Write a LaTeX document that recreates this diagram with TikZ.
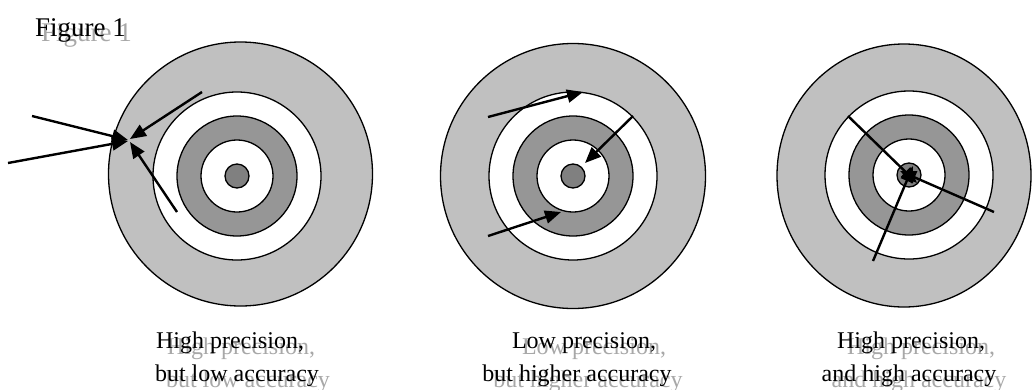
\documentclass[tikz,border=0pt]{standalone}
\usepackage{fontspec}
\setmainfont{Liberation Serif}
\usetikzlibrary{arrows.meta}
\definecolor{ringlight}{RGB}{192,192,192}
\definecolor{ringdark}{RGB}{150,150,150}
\definecolor{bull}{RGB}{128,128,128}
\definecolor{ghost}{RGB}{168,168,168}
\begin{document}
\begin{tikzpicture}[x=1pt,y=-1pt,
  ring/.style={draw=black,line width=1.3pt},
  shot/.style={line width=2.4pt,-{Triangle[length=16pt,width=13pt]}},
  lbl/.style={inner sep=0pt,anchor=base,font=\fontsize{24}{29}\selectfont},
  ghostlbl/.style={lbl,text=ghost},
  figlbl/.style={inner sep=0pt,anchor=base west,font=\fontsize{27}{32}\selectfont},
]
\useasboundingbox (0,0) rectangle (1032,389);

% ---------- Target 1 ----------
\path[ring,fill=ringlight] (240.5,174) circle[radius=132];
\path[ring,fill=white] (237,176) circle[radius=84];
\path[ring,fill=ringdark] (237,176) circle[radius=60];
\path[ring,fill=white] (237,176) circle[radius=36];
\path[ring,fill=bull] (237,176) circle[radius=12];

% ---------- Target 2 ----------
\path[ring,fill=ringlight] (573,176) circle[radius=132.5];
\path[ring,fill=white] (573,176) circle[radius=84];
\path[ring,fill=ringdark] (573,176) circle[radius=60];
\path[ring,fill=white] (573,176) circle[radius=36];
\path[ring,fill=bull] (573,176) circle[radius=12];

% ---------- Target 3 ----------
\path[ring,fill=ringlight] (904,175.5) ellipse[x radius=127,y radius=131.5];
\path[ring,fill=white] (909,175) circle[radius=84];
\path[ring,fill=ringdark] (909,175) circle[radius=60];
\path[ring,fill=white] (909,175) circle[radius=36];
\path[ring,fill=bull] (909,175) circle[radius=12];

% ---------- shot coordinates ----------
\coordinate (s1a) at (32,116);  \coordinate (t1a) at (128,140);
\coordinate (s1b) at (8,163);   \coordinate (t1b) at (128,141);
\coordinate (s1c) at (202,92);  \coordinate (t1c) at (130,139);
\coordinate (s1d) at (177,212); \coordinate (t1d) at (130,142);

\coordinate (s2a) at (488,117); \coordinate (t2a) at (583,92);
\coordinate (s2b) at (633,116); \coordinate (t2b) at (585,163);
\coordinate (s2c) at (488,236); \coordinate (t2c) at (561,212);

\coordinate (s3a) at (848,116); \coordinate (t3a) at (917,183);
\coordinate (s3b) at (994,212); \coordinate (t3b) at (900,171);
\coordinate (s3c) at (873,261); \coordinate (t3c) at (913,166);

\draw[shot] (s1a) -- (t1a);
\draw[shot] (s1b) -- (t1b);
\draw[shot] (s1c) -- (t1c);
\draw[shot] (s1d) -- (t1d);

\draw[shot] (s2a) -- (t2a);
\draw[shot] (s2b) -- (t2b);
\draw[shot] (s2c) -- (t2c);

\draw[shot] (s3a) -- (t3a);
\draw[shot] (s3b) -- (t3b);
\draw[shot] (s3c) -- (t3c);

% ---------- title ----------
\node[figlbl,text=ghost] (figg) at (41,41) {Figure 1};
\node[figlbl] (fig) at (35,36) {Figure 1};

% ---------- captions (ghost copies first) ----------
\node[ghostlbl] (c1ag) at (241,354) {High precision,};
\node[ghostlbl] (c1bg) at (248,387) {but low accuracy};
\node[ghostlbl] (c2ag) at (594,354) {Low precision,};
\node[ghostlbl] (c2bg) at (588,387) {but higher accuracy};
\node[ghostlbl] (c3ag) at (921,354) {High precision,};
\node[ghostlbl] (c3bg) at (919,387) {and high accuracy};

\node[lbl] (c1a) at (230,348) {High precision,};
\node[lbl] (c1b) at (237,381) {but low accuracy};
\node[lbl] (c2a) at (584,348) {Low precision,};
\node[lbl] (c2b) at (577,381) {but higher accuracy};
\node[lbl] (c3a) at (911,348) {High precision,};
\node[lbl] (c3b) at (909,381) {and high accuracy};
\end{tikzpicture}
\end{document}
